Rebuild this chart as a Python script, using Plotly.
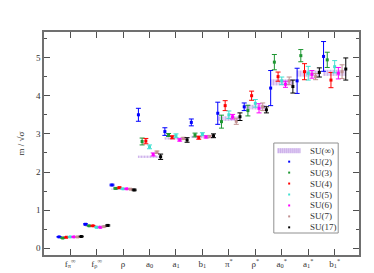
import plotly.graph_objects as go

categories = ["f<sub>π</sub><sup>∞</sup>", "f<sub>ρ</sub><sup>∞</sup>", "ρ", "a<sub>0</sub>", "a<sub>1</sub>",
              "b<sub>1</sub>", "π<sup>*</sup>", "ρ<sup>*</sup>", "a<sub>0</sub><sup>*</sup>",
              "a<sub>1</sub><sup>*</sup>", "b<sub>1</sub><sup>*</sup>"]
cat_pos = [1, 2, 3, 4, 5, 6, 7, 8, 9, 10, 11]

su_names = ["SU(2)", "SU(3)", "SU(4)", "SU(5)", "SU(6)", "SU(7)", "SU(17)"]
su_colors = ["#0000ff", "#1e9632", "#ff0000", "#40e0d0", "#ff00ff", "#c09090", "#000000"]
su_offsets = [-0.42, -0.28, -0.14, 0.0, 0.14, 0.28, 0.42]
inf_name = "SU(∞)"

su2 = [0.30, 0.63, 1.66, 3.50, 3.06, 3.30, 3.54, 3.71, 4.20, 4.39, 5.03]
su2_err = [0.01, 0.015, 0.02, 0.17, 0.10, 0.09, 0.29, 0.10, 0.46, 0.33, 0.39]
su3 = [0.27, 0.59, 1.57, 2.80, 2.97, 2.97, 3.32, 3.61, 4.88, 5.05, 4.94]
su3_err = [0.01, 0.01, 0.015, 0.09, 0.04, 0.05, 0.17, 0.14, 0.20, 0.16, 0.20]
su4 = [0.29, 0.59, 1.59, 2.81, 2.91, 2.90, 3.74, 4.00, 4.50, 4.63, 4.41]
su4_err = [0.01, 0.01, 0.015, 0.07, 0.04, 0.04, 0.13, 0.12, 0.12, 0.21, 0.20]
su5 = [0.30, 0.55, 1.56, 2.66, 2.95, 2.99, 3.50, 3.80, 4.39, 4.59, 4.76]
su5_err = [0.01, 0.01, 0.01, 0.05, 0.05, 0.04, 0.10, 0.10, 0.10, 0.18, 0.16]
su6 = [0.30, 0.55, 1.56, 2.46, 2.84, 2.92, 3.45, 3.67, 4.30, 4.56, 4.59]
su6_err = [0.01, 0.01, 0.01, 0.04, 0.03, 0.03, 0.06, 0.12, 0.08, 0.10, 0.15]
su7 = [0.30, 0.57, 1.55, 2.52, 2.88, 2.93, 3.33, 3.71, 4.39, 4.50, 4.63]
su7_err = [0.01, 0.01, 0.01, 0.03, 0.03, 0.03, 0.08, 0.10, 0.10, 0.08, 0.18]
su17 = [0.31, 0.60, 1.53, 2.40, 2.84, 2.95, 3.45, 3.63, 4.24, 4.61, 4.70]
su17_err = [0.01, 0.015, 0.02, 0.07, 0.06, 0.05, 0.10, 0.08, 0.17, 0.12, 0.29]
suinf = [0.30, 0.58, 1.55, 2.40, 2.88, 2.92, 3.40, 3.70, 4.35, 4.58, 4.60]
suinf_err = [0.02, 0.02, 0.02, 0.03, 0.03, 0.03, 0.06, 0.06, 0.08, 0.08, 0.08]

series = [su2, su3, su4, su5, su6, su7, su17]
series_err = [su2_err, su3_err, su4_err, su5_err, su6_err, su7_err, su17_err]

FONT = "Liberation Serif"
W, H = 374, 273
ML, MR, MT, MB = 33, 23, 24, 26
PW, PH = W - ML - MR, H - MT - MB
BAND_FILL = "rgba(215,190,240,0.6)"
BAND_LINE = "#b58ee0"

fig = go.Figure()

fig.add_trace(go.Bar(
    x=cat_pos,
    y=[2 * e for e in suinf_err],
    base=[v - e for v, e in zip(suinf, suinf_err)],
    width=0.88, name=inf_name, showlegend=False,
    marker=dict(color=BAND_FILL, line=dict(width=0),
                pattern=dict(shape="|", fgcolor=BAND_LINE, size=3, solidity=0.4)),
))

for name, col, off, vals, errs in zip(su_names, su_colors, su_offsets, series, series_err):
    fig.add_trace(go.Scatter(
        x=[p + off for p in cat_pos], y=vals, mode="markers", name=name, showlegend=False,
        marker=dict(symbol="square", size=3, color=col),
        error_y=dict(type="data", array=errs, visible=True, color=col, thickness=1, width=2.5),
    ))

axis_common = dict(showline=True, linecolor="#707070", linewidth=1.5, mirror="allticks",
                   ticks="inside", tickcolor="#505050", tickwidth=1, zeroline=False,
                   showgrid=False, tickfont=dict(family=FONT, size=9, color="#333"))

fig.update_xaxes(range=[0.01, 11.92], tickvals=cat_pos, ticktext=categories, ticklen=6,
                 ticklabelstandoff=-1, **axis_common)
fig.update_yaxes(range=[-0.175, 5.67], tickvals=[0, 1, 2, 3, 4, 5], ticklen=6,
                 minor=dict(dtick=0.5, ticklen=3, ticks="inside", tickcolor="#505050"),
                 title=dict(text="m / √σ", font=dict(family=FONT, size=9, color="#333"), standoff=10),
                 **axis_common)

# compact legend box (paper coordinates derived from pixel layout)
def px(x):
    return (x - ML) / PW

def py(y):
    return (H - MB - y) / PH

shapes = [dict(type="rect", xref="paper", yref="paper", x0=px(265), x1=px(330), y0=py(225), y1=py(135),
               line=dict(color="#909090", width=1), fillcolor="white", layer="above")]
annotations = []
row_y0, row_dy = 142.7, 10.95
labels = [inf_name] + su_names
for i, lab in enumerate(labels):
    yy = row_y0 + i * row_dy
    if i == 0:
        shapes.append(dict(type="rect", xref="paper", yref="paper", x0=px(268.5), x1=px(291.5),
                           y0=py(yy + 2.5), y1=py(yy - 2.5), line=dict(width=0),
                           fillcolor=BAND_FILL, layer="above"))
        for k in range(12):
            xx = 269.5 + k * 2
            shapes.append(dict(type="line", xref="paper", yref="paper", x0=px(xx), x1=px(xx),
                               y0=py(yy + 2.5), y1=py(yy - 2.5), line=dict(color=BAND_LINE, width=0.7),
                               layer="above"))
    else:
        col = su_colors[i - 1]
        shapes.append(dict(type="rect", xref="paper", yref="paper", x0=px(279.5), x1=px(281.5),
                           y0=py(yy + 1), y1=py(yy - 1), line=dict(width=0), fillcolor=col,
                           layer="above"))
    annotations.append(dict(text=lab, xref="paper", yref="paper", x=px(300), y=py(yy),
                            xanchor="left", yanchor="middle", showarrow=False,
                            font=dict(family=FONT, size=9, color="#333")))

fig.update_layout(
    width=W, height=H,
    margin=dict(l=ML, r=MR, t=MT, b=MB),
    plot_bgcolor="white", paper_bgcolor="white",
    barmode="overlay", showlegend=False,
    shapes=shapes, annotations=annotations,
)

fig.write_html("out.html")
